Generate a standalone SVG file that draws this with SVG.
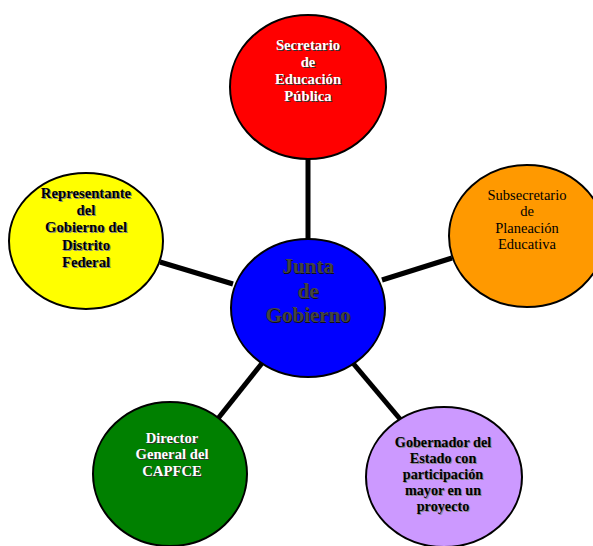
<svg xmlns="http://www.w3.org/2000/svg" width="593" height="546" viewBox="0 0 593 546">
<style>
.n{stroke:#000;stroke-width:2}
.c{stroke:#000;stroke-width:5;fill:none}
text{font-family:"Liberation Serif","Times New Roman",serif;text-anchor:middle}
.b{font-size:14.7px;font-weight:bold}
.p{font-size:14.2px;font-weight:bold}
.r{font-size:14.5px}
.sh{fill:#888}
.shd{fill:#333}
</style>
<rect width="593" height="546" fill="#fff"/>
<g id="connectors">
<line class="c" x1="308" y1="158" x2="308" y2="240"/>
<line class="c" x1="160" y1="262" x2="233" y2="284"/>
<line class="c" x1="382" y1="280" x2="452" y2="258"/>
<line class="c" x1="263" y1="362" x2="216" y2="421"/>
<line class="c" x1="352" y1="362" x2="400" y2="419"/>
</g>
<g id="sep">
<ellipse class="n" cx="308" cy="87" rx="78" ry="72" fill="#ff0000"/>
<g class="b">
<text x="309" y="51" class="shd">Secretario</text><text x="309" y="68" class="shd">de</text><text x="309" y="85" class="shd">Educación</text><text x="309" y="102" class="shd">Pública</text>
<text x="308" y="50" fill="#fff">Secretario</text><text x="308" y="67" fill="#fff">de</text><text x="308" y="84" fill="#fff">Educación</text><text x="308" y="101" fill="#fff">Pública</text>
</g>
</g>
<g id="junta">
<ellipse class="n" cx="308" cy="308" rx="77" ry="69" fill="#0000ff"/>
<g style="font-size:21px;font-weight:bold">
<text x="309" y="274" fill="#111">Junta</text><text x="309" y="299" fill="#111">de</text><text x="309" y="323" fill="#111">Gobierno</text>
<text x="308" y="273" fill="#444">Junta</text><text x="308" y="298" fill="#444">de</text><text x="308" y="322" fill="#444">Gobierno</text>
</g>
</g>
<g id="representante">
<ellipse class="n" cx="86" cy="241" rx="77" ry="68" fill="#ffff00"/>
<g class="b">
<text x="87" y="199" class="sh">Representante</text><text x="87" y="216" class="sh">del</text><text x="87" y="233" class="sh">Gobierno del</text><text x="87" y="251" class="sh">Distrito</text><text x="87" y="268" class="sh">Federal</text>
<text x="86" y="198" fill="#000">Representante</text><text x="86" y="215" fill="#000">del</text><text x="86" y="232" fill="#000">Gobierno del</text><text x="86" y="250" fill="#000">Distrito</text><text x="86" y="267" fill="#000">Federal</text>
</g>
</g>
<g id="subsecretario">
<ellipse class="n" cx="527" cy="236" rx="78" ry="71" fill="#ff9900"/>
<g class="r" fill="#000">
<text x="527" y="200">Subsecretario</text><text x="527" y="216">de</text><text x="527" y="233">Planeación</text><text x="527" y="249">Educativa</text>
</g>
</g>
<g id="director">
<ellipse class="n" cx="170" cy="474" rx="77" ry="72" fill="#008000"/>
<g class="b">
<text x="173" y="444" class="shd">Director</text><text x="173" y="460" class="shd">General del</text><text x="173" y="477" class="shd">CAPFCE</text>
<text x="172" y="443" fill="#fff">Director</text><text x="172" y="459" fill="#fff">General del</text><text x="172" y="476" fill="#fff">CAPFCE</text>
</g>
</g>
<g id="gobernador">
<ellipse class="n" cx="444" cy="477" rx="78" ry="70" fill="#cc99ff"/>
<g class="p">
<text x="444" y="448" class="sh">Gobernador del</text><text x="444" y="464" class="sh">Estado con</text><text x="444" y="480" class="sh">participación</text><text x="444" y="496" class="sh">mayor en un</text><text x="444" y="512" class="sh">proyecto</text>
<text x="443" y="447" fill="#000">Gobernador del</text><text x="443" y="463" fill="#000">Estado con</text><text x="443" y="479" fill="#000">participación</text><text x="443" y="495" fill="#000">mayor en un</text><text x="443" y="511" fill="#000">proyecto</text>
</g>
</g>
</svg>
